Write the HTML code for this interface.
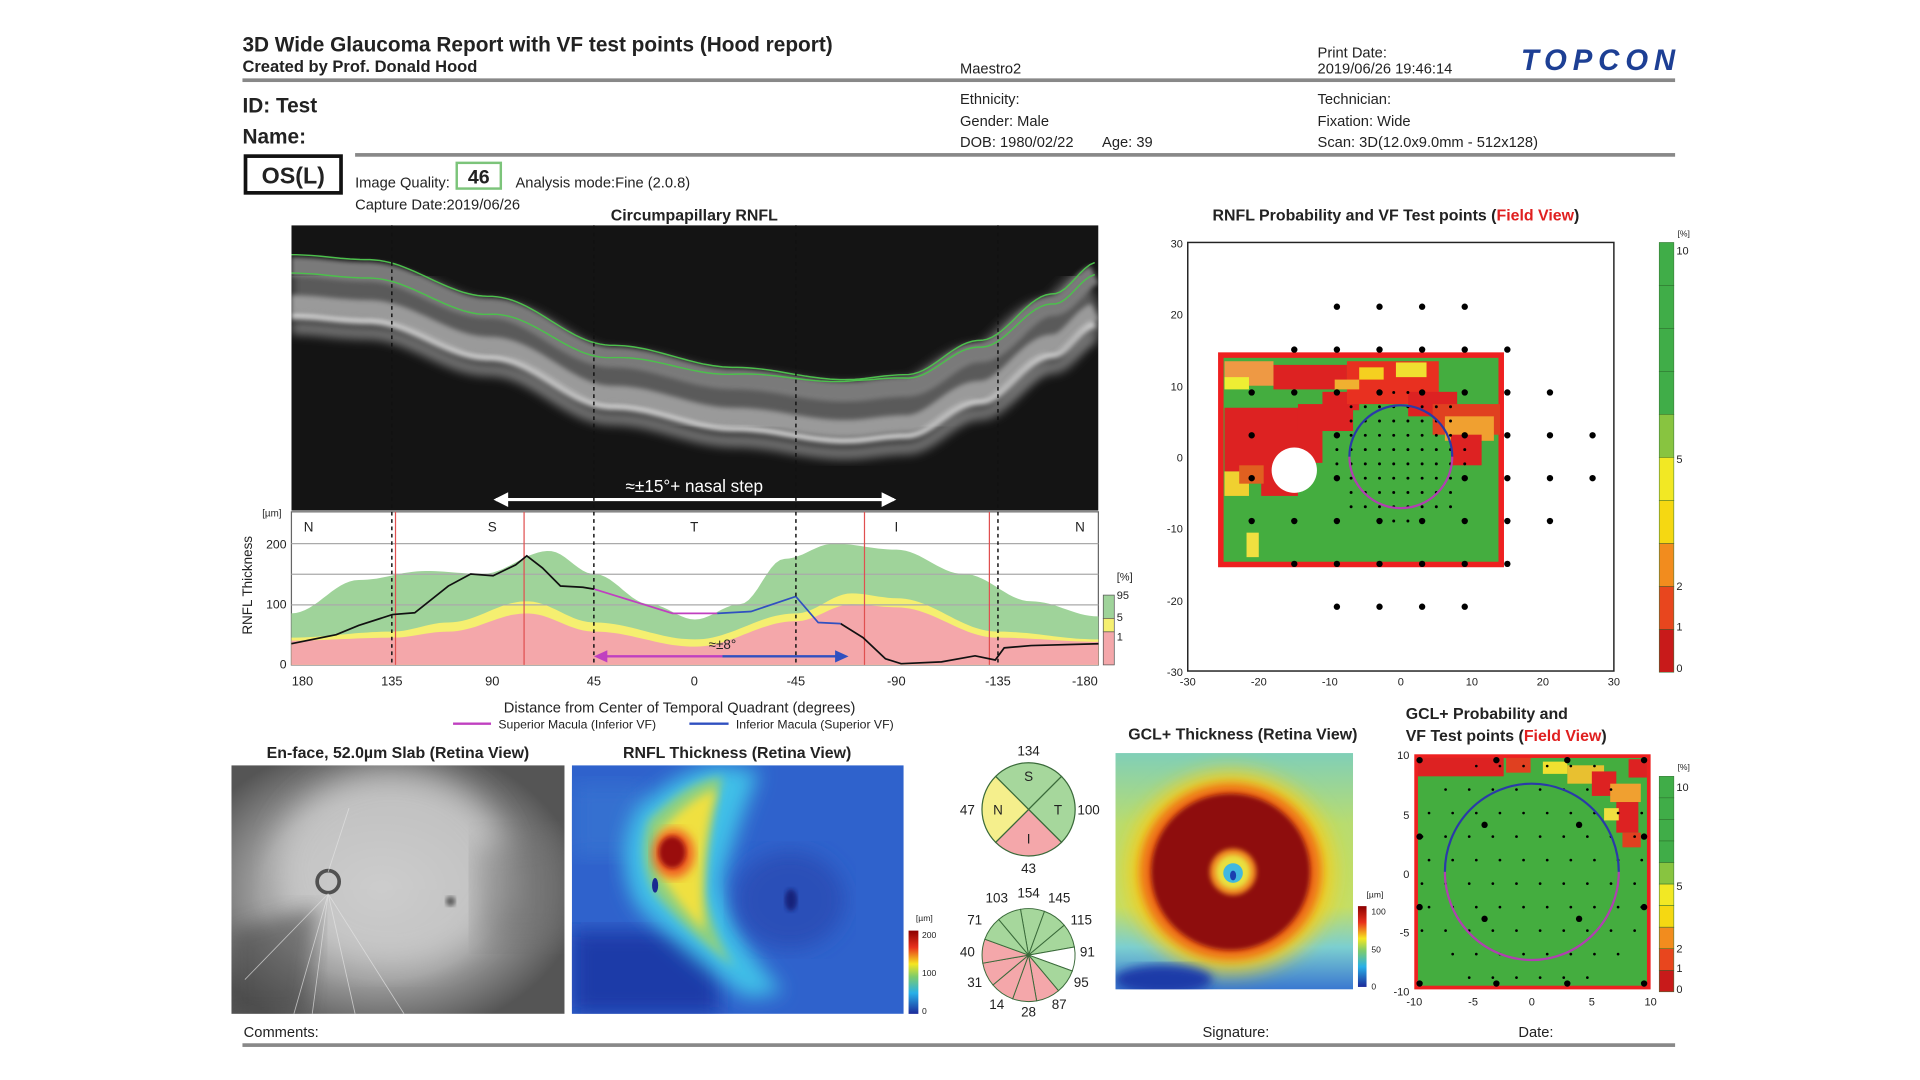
<!DOCTYPE html>
<html><head><meta charset="utf-8">
<style>
html,body{margin:0;padding:0;background:#fff;width:1920px;height:1080px;overflow:hidden}
svg{display:block}
text{font-family:"Liberation Sans",Arial,sans-serif;fill:#222}
.b{font-weight:bold}
</style></head><body>
<svg id="s" width="1920" height="1080" viewBox="0 0 1568 882" xmlns="http://www.w3.org/2000/svg">
<defs>
<filter id="bl2"><feGaussianBlur stdDeviation="2"/></filter>
<filter id="bl4"><feGaussianBlur stdDeviation="4"/></filter>
<filter id="bl8"><feGaussianBlur stdDeviation="8"/></filter>
<filter id="bl12"><feGaussianBlur stdDeviation="12"/></filter>
<clipPath id="cB"><rect x="238" y="184" width="659" height="233"/></clipPath>
<clipPath id="cE"><rect x="189" y="625" width="272" height="203"/></clipPath>
<clipPath id="cR"><rect x="467" y="625" width="271" height="203"/></clipPath>
<clipPath id="cG"><rect x="911" y="615" width="194" height="193"/></clipPath>
<linearGradient id="cbT" x1="0" y1="0" x2="0" y2="1">
<stop offset="0" stop-color="#8b0000"/><stop offset=".2" stop-color="#e8301c"/><stop offset=".4" stop-color="#f6e620"/><stop offset=".55" stop-color="#7fcc6a"/><stop offset=".75" stop-color="#28b0e8"/><stop offset="1" stop-color="#1c2a9a"/></linearGradient>
<radialGradient id="gE" cx=".45" cy=".5" r=".6"><stop offset="0" stop-color="#c4c4c4"/><stop offset=".6" stop-color="#a0a0a0"/><stop offset="1" stop-color="#555"/></radialGradient>
<linearGradient id="gG" x1="0" y1="0" x2="0" y2="1"><stop offset="0" stop-color="#80cfb8"/><stop offset=".3" stop-color="#b8dc70"/><stop offset=".65" stop-color="#c4de66"/><stop offset=".82" stop-color="#7ccfd0"/><stop offset="1" stop-color="#3a78d0"/></linearGradient>
</defs>

<text x="198" y="42" class="b" font-size="17">3D Wide Glaucoma Report with VF test points (Hood report)</text>
<text x="198" y="59" class="b" font-size="13.5">Created by Prof. Donald Hood</text>
<text x="784" y="60" font-size="12">Maestro2</text>
<text x="1076" y="47" font-size="12">Print Date:</text>
<text x="1076" y="60" font-size="12">2019/06/26 19:46:14</text>
<text x="1242" y="57" font-size="24" font-weight="bold" font-style="italic" style="fill:#1d3f94" textLength="126">TOPCON</text>
<rect x="198" y="64" width="1170" height="3" fill="#888"/>
<text x="198" y="92" class="b" font-size="17">ID: Test</text>
<text x="198" y="117" class="b" font-size="17">Name:</text>
<text x="784" y="85" font-size="12">Ethnicity:</text>
<text x="784" y="103" font-size="12">Gender: Male</text>
<text x="784" y="120" font-size="12">DOB: 1980/02/22</text>
<text x="900" y="120" font-size="12">Age: 39</text>
<text x="1076" y="85" font-size="12">Technician:</text>
<text x="1076" y="103" font-size="12">Fixation: Wide</text>
<text x="1076" y="120" font-size="12">Scan: 3D(12.0x9.0mm - 512x128)</text>
<rect x="290" y="125" width="1078" height="3" fill="#888"/>
<rect x="200.5" y="127.5" width="78" height="30" fill="none" stroke="#111" stroke-width="3"/>
<text x="239.5" y="150" class="b" font-size="19" text-anchor="middle">OS(L)</text>
<text x="290" y="153" font-size="12">Image Quality:</text>
<rect x="373" y="133" width="36" height="21" fill="none" stroke="#7cc47a" stroke-width="2"/>
<text x="391" y="150" class="b" font-size="16" text-anchor="middle">46</text>
<text x="421" y="153" font-size="12">Analysis mode:Fine (2.0.8)</text>
<text x="290" y="171" font-size="12">Capture Date:2019/06/26</text>
<text x="567" y="180" class="b" font-size="13" text-anchor="middle">Circumpapillary RNFL</text>

<g clip-path="url(#cB)">
<rect x="238" y="184" width="659" height="233" fill="#141414"/>
<g id="bscan"></g>
</g>
<line x1="405" y1="408" x2="730" y2="408" stroke="#fff" stroke-width="2.5"/>
<polygon points="403,408 415,402 415,414" fill="#fff"/>
<polygon points="732,408 720,402 720,414" fill="#fff"/>
<text x="567" y="402" font-size="14" text-anchor="middle" style="fill:#fff">≈±15°+ nasal step</text>

<rect x="238" y="418" width="659" height="125" fill="#fff" stroke="#666" stroke-width="1"/>
<g id="rnfl"></g>
<line x1="238" y1="444" x2="897" y2="444" stroke="#aaa"/>
<line x1="238" y1="469" x2="897" y2="469" stroke="#aaa"/>
<line x1="238" y1="494" x2="897" y2="494" stroke="#aaa"/>
<g stroke="#e05050" stroke-width="1"><line x1="323" y1="418" x2="323" y2="543"/><line x1="428" y1="418" x2="428" y2="543"/><line x1="706" y1="418" x2="706" y2="543"/><line x1="808" y1="418" x2="808" y2="543"/></g>
<g id="rnflline"></g>
<g stroke="#111" stroke-width="1.2" stroke-dasharray="3,3"><line x1="320" y1="184" x2="320" y2="543"/><line x1="485" y1="184" x2="485" y2="543"/><line x1="650" y1="184" x2="650" y2="543"/><line x1="815" y1="184" x2="815" y2="543"/></g>
<g font-size="11" text-anchor="middle"><text x="252" y="434">N</text><text x="402" y="434">S</text><text x="567" y="434">T</text><text x="732" y="434">I</text><text x="882" y="434">N</text></g>
<line x1="490" y1="536" x2="590" y2="536" stroke="#c040c0" stroke-width="2"/>
<line x1="590" y1="536" x2="688" y2="536" stroke="#3050c0" stroke-width="2"/>
<polygon points="485,536 496,531 496,541" fill="#c040c0"/>
<polygon points="693,536 682,531 682,541" fill="#3050c0"/>
<text x="590" y="530" font-size="11" text-anchor="middle">≈±8°</text>
<g font-size="10" text-anchor="end"><text x="234" y="448">200</text><text x="234" y="497">100</text><text x="234" y="546">0</text></g>
<text x="222" y="422" font-size="8" text-anchor="middle">[µm]</text>
<text x="206" y="478" font-size="11" text-anchor="middle" transform="rotate(-90 206 478)">RNFL Thickness</text>
<g font-size="10.5" text-anchor="middle"><text x="247" y="560">180</text><text x="320" y="560">135</text><text x="402" y="560">90</text><text x="485" y="560">45</text><text x="567" y="560">0</text><text x="650" y="560">-45</text><text x="732" y="560">-90</text><text x="815" y="560">-135</text><text x="886" y="560">-180</text></g>
<text x="555" y="582" font-size="12" text-anchor="middle">Distance from Center of Temporal Quadrant (degrees)</text>
<line x1="370" y1="591" x2="401" y2="591" stroke="#c040c0" stroke-width="2"/>
<text x="407" y="595" font-size="10">Superior Macula (Inferior VF)</text>
<line x1="563" y1="591" x2="595" y2="591" stroke="#3050c0" stroke-width="2"/>
<text x="601" y="595" font-size="10">Inferior Macula (Superior VF)</text>
<rect x="901" y="486" width="9" height="19" fill="#9fd39a" stroke="#555" stroke-width=".6"/>
<rect x="901" y="505" width="9" height="11" fill="#f5ef70" stroke="#555" stroke-width=".6"/>
<rect x="901" y="516" width="9" height="27" fill="#f4a7aa" stroke="#555" stroke-width=".6"/>
<g font-size="9"><text x="912" y="474">[%]</text><text x="912" y="489">95</text><text x="912" y="507">5</text><text x="912" y="523">1</text></g>

<text x="1140" y="180" class="b" font-size="13" text-anchor="middle">RNFL Probability and VF Test points (<tspan style="fill:#e02020">Field View</tspan>)</text>
<rect x="970" y="198" width="348" height="350" fill="#fff" stroke="#222" stroke-width="1.2"/>
<g id="pm"></g>
<g font-size="9" text-anchor="end"><text x="966" y="202">30</text><text x="966" y="260">20</text><text x="966" y="319">10</text><text x="966" y="377">0</text><text x="966" y="435">-10</text><text x="966" y="494">-20</text><text x="966" y="552">-30</text></g>
<g font-size="9" text-anchor="middle"><text x="970" y="560">-30</text><text x="1028" y="560">-20</text><text x="1086" y="560">-10</text><text x="1144" y="560">0</text><text x="1202" y="560">10</text><text x="1260" y="560">20</text><text x="1318" y="560">30</text></g>
<g id="cb1"></g>
<g font-size="9"><text x="1370" y="193" font-size="7">[%]</text><text x="1369" y="208">10</text><text x="1369" y="378">5</text><text x="1369" y="482">2</text><text x="1369" y="515">1</text><text x="1369" y="549">0</text></g>

<text x="325" y="619" class="b" font-size="13" text-anchor="middle">En-face, 52.0µm Slab (Retina View)</text>
<g clip-path="url(#cE)">
<rect x="189" y="625" width="272" height="203" fill="url(#gE)"/>
<ellipse cx="320" cy="710" rx="95" ry="80" fill="#d0d0d0" opacity=".7" filter="url(#bl12)"/>
<polygon points="189,760 260,740 250,828 189,828" fill="#444" opacity=".55" filter="url(#bl8)"/>
<polygon points="390,690 461,680 461,770 390,770" fill="#707070" opacity=".5" filter="url(#bl12)"/>
<circle cx="268" cy="720" r="9" fill="none" stroke="#333" stroke-width="3" opacity=".8"/>
<circle cx="368" cy="736" r="4" fill="#333" opacity=".7" filter="url(#bl2)"/>
<g stroke="#e4e4e4" stroke-width=".7" fill="none" opacity=".7"><path d="M268,730 L240,828"/><path d="M268,730 L200,800"/><path d="M268,730 L290,828"/><path d="M268,730 L330,828"/><path d="M268,730 L255,828"/><path d="M268,712 L285,660"/></g>
</g>
<text x="602" y="619" class="b" font-size="13" text-anchor="middle">RNFL Thickness (Retina View)</text>
<g clip-path="url(#cR)">
<rect x="467" y="625" width="271" height="203" fill="#2f62cc"/>
<rect x="467" y="760" width="120" height="68" fill="#1e3aa8" filter="url(#bl8)"/>
<rect x="467" y="640" width="60" height="60" fill="#3570d0" filter="url(#bl8)"/>
<path d="M520,660 Q560,625 590,625 L620,630 Q600,680 590,720 Q600,770 640,810 L610,815 Q560,780 520,740 Q500,700 520,660Z" fill="#40c0e8" filter="url(#bl8)"/>
<path d="M530,670 Q565,635 590,635 Q575,690 575,730 Q585,770 600,790 Q560,760 535,730 Q520,700 530,670Z" fill="#8ed080" filter="url(#bl4)"/>
<path d="M538,680 Q565,650 585,645 Q570,700 575,760 Q555,740 540,715Z" fill="#f0e040" filter="url(#bl4)"/>
<ellipse cx="550" cy="697" rx="17" ry="20" fill="#f06020" filter="url(#bl4)"/>
<ellipse cx="549" cy="696" rx="11" ry="13" fill="#9a0c0c" filter="url(#bl2)"/>
<ellipse cx="535" cy="723" rx="2.5" ry="6" fill="#1a2a90"/>
<ellipse cx="645" cy="735" rx="45" ry="40" fill="#2a50b8" filter="url(#bl8)"/>
<ellipse cx="646" cy="735" rx="5" ry="9" fill="#14207a" filter="url(#bl2)"/>
</g>
<rect x="742" y="760" width="8" height="68" fill="url(#cbT)"/>
<g font-size="7"><text x="748" y="752">[µm]</text><text x="753" y="766">200</text><text x="753" y="797">100</text><text x="753" y="828">0</text></g>

<g stroke="#3a6a3a" stroke-width="1">
<path d="M840,661 L813.1,634.1 A38,38 0 0 1 866.9,634.1Z" fill="#a6d79c"/>
<path d="M840,661 L866.9,634.1 A38,38 0 0 1 866.9,687.9Z" fill="#a6d79c"/>
<path d="M840,661 L866.9,687.9 A38,38 0 0 1 813.1,687.9Z" fill="#f4a7aa"/>
<path d="M840,661 L813.1,687.9 A38,38 0 0 1 813.1,634.1Z" fill="#f5ef8c"/>
</g>
<g font-size="11" text-anchor="middle"><text x="840" y="638">S</text><text x="864" y="665">T</text><text x="840" y="689">I</text><text x="815" y="665">N</text>
<text x="840" y="617">134</text><text x="790" y="665">47</text><text x="889" y="665">100</text><text x="840" y="713">43</text></g>
<g id="pie2"></g>
<g font-size="11" text-anchor="middle"><text x="814" y="737">103</text><text x="840" y="733">154</text><text x="865" y="737">145</text><text x="883" y="755">115</text><text x="888" y="781">91</text><text x="883" y="806">95</text><text x="865" y="824">87</text><text x="840" y="830">28</text><text x="814" y="824">14</text><text x="796" y="806">31</text><text x="790" y="781">40</text><text x="796" y="755">71</text></g>

<text x="1015" y="604" class="b" font-size="13" text-anchor="middle">GCL+ Thickness (Retina View)</text>
<g clip-path="url(#cG)">
<rect x="911" y="615" width="194" height="193" fill="url(#gG)"/>
<ellipse cx="1005" cy="712" rx="85" ry="82" fill="#f0d020" filter="url(#bl8)"/>
<ellipse cx="1005" cy="712" rx="74" ry="72" fill="#ee6a14" filter="url(#bl4)"/>
<ellipse cx="1005" cy="712" rx="65" ry="64" fill="#8e0a0a" filter="url(#bl2)"/>
<circle cx="1007" cy="712" r="19" fill="#f08a20" filter="url(#bl2)"/>
<circle cx="1007" cy="712" r="14" fill="#e8e040" filter="url(#bl2)"/>
<circle cx="1007" cy="713" r="8" fill="#40b8e0"/>
<ellipse cx="1007" cy="715" rx="2.5" ry="4" fill="#1a40b0"/>
<ellipse cx="950" cy="800" rx="40" ry="12" fill="#1e3aa8" filter="url(#bl4)"/>
</g>
<rect x="1109" y="740" width="7" height="66" fill="url(#cbT)"/>
<g font-size="7"><text x="1116" y="733">[µm]</text><text x="1120" y="747">100</text><text x="1120" y="778">50</text><text x="1120" y="808">0</text></g>

<text x="1148" y="587" class="b" font-size="13">GCL+ Probability and</text>
<text x="1148" y="605" class="b" font-size="13">VF Test points (<tspan style="fill:#e02020">Field View</tspan>)</text>
<g id="gm"></g>
<g font-size="9" text-anchor="end"><text x="1151" y="620">10</text><text x="1151" y="669">5</text><text x="1151" y="717">0</text><text x="1151" y="765">-5</text><text x="1151" y="813">-10</text></g>
<g font-size="9" text-anchor="middle"><text x="1155" y="821">-10</text><text x="1203" y="821">-5</text><text x="1251" y="821">0</text><text x="1300" y="821">5</text><text x="1348" y="821">10</text></g>
<g id="cb2"></g>
<g font-size="9"><text x="1370" y="629" font-size="7">[%]</text><text x="1369" y="646">10</text><text x="1369" y="727">5</text><text x="1369" y="778">2</text><text x="1369" y="794">1</text><text x="1369" y="811">0</text></g>

<text x="199" y="847" font-size="12">Comments:</text>
<text x="982" y="847" font-size="12">Signature:</text>
<text x="1240" y="847" font-size="12">Date:</text>
<rect x="198" y="852" width="1170" height="3" fill="#888"/>
</svg>
<script>
var NS="http://www.w3.org/2000/svg";
function el(p,t,a){var e=document.createElementNS(NS,t);for(var k in a)e.setAttribute(k,a[k]);document.getElementById(p).appendChild(e);return e;}
function interp(tab,a){for(var i=0;i<tab.length-1;i++){var p=tab[i],q=tab[i+1];if(a<=p[0]&&a>=q[0]){var t=(p[0]-a)/(p[0]-q[0]);var s=(1-Math.cos(t*Math.PI))/2;return p[1]+(q[1]-p[1])*s;}}return tab[tab.length-1][1];}
function X(a){return 567.5-a*1.8306}function Y(v){return 543-v*0.495}
var G=[[180,85],[150,140],[120,155],[95,150],[65,188],[45,150],[20,100],[0,75],[-20,100],[-40,175],[-62,200],[-90,190],[-120,150],[-150,105],[-180,80]];
var Yl=[[180,45],[135,55],[110,70],[75,105],[45,70],[0,42],[-45,85],[-70,118],[-90,110],[-135,55],[-180,42]];
var P=[[180,40],[135,45],[110,55],[75,85],[45,55],[0,30],[-45,72],[-70,100],[-90,95],[-135,45],[-180,38]];
function area(tab,col){var d="M238,543";for(var a=180;a>=-180;a-=2){d+=" L"+X(a).toFixed(1)+","+Y(interp(tab,a)).toFixed(1);}d+=" L897,543Z";el("rnfl","path",{d:d,fill:col});}
area(G,"#9fd39a");area(Yl,"#f5ef70");area(P,"#f4a7aa");
var B=[[180,35],[160,50],[150,65],[135,83],[125,86],[110,130],[100,150],[90,147],[80,165],[75,180],[68,160],[60,130],[50,128],[45,125]];
var M=[[45,125],[10,85],[-10,85]];
var Bl=[[-10,85],[-25,88],[-45,113],[-55,70],[-65,68],[-75,45],[-85,10],[-92,2],[-110,5],[-125,15],[-134,8],[-138,28],[-150,32],[-180,35]];
function line(tab,col){var d="";for(var i=0;i<tab.length;i++){d+=(i?" L":"M")+X(tab[i][0]).toFixed(1)+","+Y(tab[i][1]).toFixed(1);}el("rnflline","path",{d:d,fill:"none",stroke:col,"stroke-width":1.4});}
line(B,"#111");line(Bl.slice(4),"#111");line(M,"#c040c0");line(Bl.slice(0,5),"#3050c0");
function curve(off){var pts=[[238,208],[300,212],[400,242],[500,282],[600,300],[690,310],[740,306],[800,278],[860,240],[897,214]];var d="";for(var x=238;x<=897;x+=4){var y;for(var i=0;i<pts.length-1;i++){if(x>=pts[i][0]&&x<=pts[i+1][0]){var t=(x-pts[i][0])/(pts[i+1][0]-pts[i][0]);var s=(1-Math.cos(t*Math.PI))/2;y=pts[i][1]+(pts[i+1][1]-pts[i][1])*s;}}d+=(x==238?"M":" L")+x+","+(y+off(x)).toFixed(1);}return d;}
el("bscan","path",{d:curve(function(){return 28}),fill:"none",stroke:"#5a5a5a","stroke-width":50,filter:"url(#bl4)"});
el("bscan","path",{d:curve(function(){return 40}),fill:"none",stroke:"#9a9a9a","stroke-width":14,filter:"url(#bl2)"});
el("bscan","path",{d:curve(function(){return 50}),fill:"none",stroke:"#cfcfcf","stroke-width":6,filter:"url(#bl2)"});
el("bscan","path",{d:curve(function(){return 60}),fill:"none",stroke:"#777","stroke-width":10,filter:"url(#bl4)"});
el("bscan","path",{d:curve(function(){return 10}),fill:"none",stroke:"#7a7a7a","stroke-width":16,filter:"url(#bl2)"});
el("bscan","path",{d:curve(function(){return 0}),fill:"none",stroke:"#4cc04c","stroke-width":1.2});
el("bscan","path",{d:curve(function(x){var c=Math.abs(x-700);return Math.min(14,c/22)+1}),fill:"none",stroke:"#4cc04c","stroke-width":1.2});
var pm="pm";
el(pm,"rect",{x:997,y:290,width:229,height:171,fill:"#44ad3f",stroke:"#ee2020","stroke-width":4.5});
var reds=[[1000,333,80,45,"#d22"],[1000,360,50,25,"#d22"],[1030,370,30,35,"#d22"],[1060,330,45,22,"#d22"],[1080,320,30,15,"#d22"],[1040,298,60,20,"#d22"],[1000,295,40,20,"#e94"],[1000,308,20,10,"#ee3"],[1100,295,75,35,"#e83020"],[1110,300,20,10,"#f5d020"],[1140,296,25,12,"#f0e030"],[1090,310,20,8,"#f0b030"],[1150,320,40,20,"#d22"],[1170,330,55,25,"#e04020"],[1180,340,40,20,"#f0a030"],[1185,355,25,25,"#d22"],[1000,385,20,20,"#f0d030"],[1012,380,20,15,"#e06020"],[1018,435,10,20,"#f0e040"]];
reds.forEach(function(r){el(pm,"rect",{x:r[0],y:r[1],width:r[2],height:r[3],fill:r[4]});});
el(pm,"circle",{cx:1057,cy:384,r:18.5,fill:"#fff"});
function PX(u){return 1144+u*5.8}function PY(v){return 373-v*5.833}
var big=[];[-9,-3,3,9].forEach(function(x){big.push([x,21],[x,-21]);});
[-15,-9,-3,3,9,15].forEach(function(x){big.push([x,15],[x,-15]);});
[-21,-15,-9,-3,3,9,15,21].forEach(function(x){big.push([x,9],[x,-9]);});
[-21,-9,-3,3,9,15,21,27].forEach(function(x){big.push([x,3],[x,-3]);});
big.forEach(function(p){if(Math.abs(p[0])<=3&&Math.abs(p[1])<=3)return;el(pm,"circle",{cx:PX(p[0]),cy:PY(p[1]),r:2.6,fill:"#000"});});
for(var i=-9;i<=9;i+=2)for(var j=-9;j<=9;j+=2){if(i*i+j*j<=100)el(pm,"circle",{cx:PX(i),cy:PY(j),r:1.2,fill:"#000"});}
el(pm,"path",{d:"M1102,373 A42,42 0 0 1 1186,373",fill:"none",stroke:"#2a3aa8","stroke-width":1.8});
el(pm,"path",{d:"M1102,373 A42,42 0 0 0 1186,373",fill:"none",stroke:"#b040b0","stroke-width":1.8});
function cbar(id,x,y0,h){var s=h/10;for(var k=0;k<10;k++){var c=["#40ad48","#40ad48","#40ad48","#40ad48","#88c440","#f2e824","#f5d812","#f28c1e","#e8461e","#c81a1a"][k];el(id,"rect",{x:x,y:y0+k*s,width:12,height:s,fill:c,stroke:"#2a6a2a","stroke-width":.4});}}
cbar("cb1",1355,198,351);cbar("cb2",1355,634,176);
var gm="gm";
el(gm,"rect",{x:1156.5,y:617.5,width:190,height:189,fill:"#44ad3f",stroke:"#ee2020","stroke-width":3});
var gr=[[1158,619,70,15,"#d22"],[1230,619,20,12,"#e04020"],[1260,622,20,10,"#f0e030"],[1280,625,30,15,"#e8c030"],[1300,630,20,20,"#d22"],[1315,640,25,15,"#f0a030"],[1320,655,18,25,"#d22"],[1330,620,15,15,"#d22"],[1310,660,12,10,"#f0e040"],[1325,680,15,12,"#e04020"]];
gr.forEach(function(r){el(gm,"rect",{x:r[0],y:r[1],width:r[2],height:r[3],fill:r[4]});});
function GX(u){return 1251+u*9.65}function GY(v){return 712-v*9.6}
[[-9.5,9.5],[-3,9.5],[3,9.5],[9.5,9.5],[-9.5,3],[9.5,3],[-9.5,-3],[9.5,-3],[-9.5,-9.5],[-3,-9.5],[3,-9.5],[9.5,-9.5],[-4,4],[4,4],[-4,-4],[4,-4]].forEach(function(p){el(gm,"circle",{cx:GX(p[0]),cy:GY(p[1]),r:2.6,fill:"#000"});});
for(var i=-9;i<=9;i+=2)for(var j=-9;j<=9;j+=2){if(i*i+j*j<=110&&!(Math.abs(i)>=9&&Math.abs(j)>=9))el(gm,"circle",{cx:GX(i+0.3*((j+9)%4-1)),cy:GY(j),r:1.1,fill:"#000"});}
el(gm,"path",{d:"M1180,712 A71,72 0 0 1 1322,712",fill:"none",stroke:"#2a3aa8","stroke-width":1.8});
el(gm,"path",{d:"M1180,712 A71,72 0 0 0 1322,712",fill:"none",stroke:"#b040b0","stroke-width":1.8});
var cx=840,cy=780,R=38;var pc=["#a6d79c","#a6d79c","#a6d79c","#fff","#a6d79c","#f4a7aa","#f4a7aa","#f4a7aa","#f4a7aa","#f4a7aa","#a6d79c","#a6d79c"];
for(var k=0;k<12;k++){var a0=(100-k*30)*Math.PI/180,a1=(70-k*30)*Math.PI/180;
var d="M"+cx+","+cy+" L"+(cx+R*Math.cos(a0)).toFixed(1)+","+(cy-R*Math.sin(a0)).toFixed(1)+" A"+R+","+R+" 0 0 1 "+(cx+R*Math.cos(a1)).toFixed(1)+","+(cy-R*Math.sin(a1)).toFixed(1)+"Z";
el("pie2","path",{d:d,fill:pc[k],stroke:"#3a6a3a","stroke-width":.8});}
</script>
</body></html>
